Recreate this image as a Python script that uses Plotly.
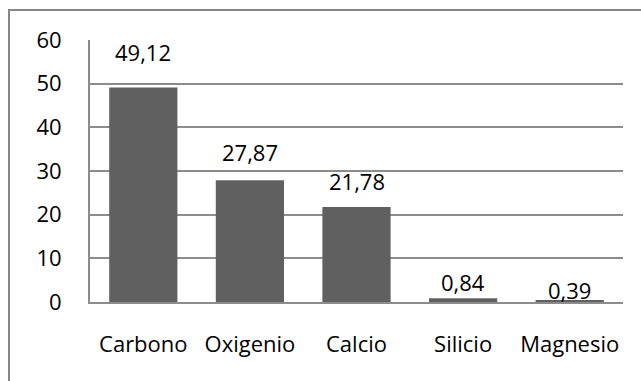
import plotly.graph_objects as go

# Element composition (%)
elementos = ["Carbono", "Oxigenio", "Calcio", "Silicio", "Magnesio"]
porcentajes = [49.12, 27.87, 21.78, 0.84, 0.39]
y_ticks = [0, 10, 20, 30, 40, 50, 60]

# vertical offset (px) of each value label above its bar
label_offsets = [36, 28, 26, 16, 10]

FONT = "Open Sans"
FSIZE = 22
GRID = "#8c8c8c"

fig = go.Figure(
    go.Bar(
        x=elementos,
        y=porcentajes,
        marker=dict(color="#606060", line=dict(width=0)),
        width=0.64,
        hoverinfo="skip",
    )
)

for cat, val, off in zip(elementos, porcentajes, label_offsets):
    fig.add_annotation(
        x=cat, y=val, xref="x", yref="y",
        text=f"{val:.2f}".replace(".", ","),
        showarrow=False, yanchor="middle", yshift=off,
        font=dict(family=FONT, size=FSIZE, color="#000000"),
    )

# outer chart frame (runs off the right/bottom edge)
fig.add_shape(
    type="rect", xref="paper", yref="paper",
    x0=-0.152, x1=1.2, y0=-0.5, y1=1.1145,
    line=dict(color="#868686", width=2), fillcolor="rgba(0,0,0,0)",
)

fig.update_layout(
    width=641, height=381,
    margin=dict(l=90, r=18, t=40, b=79),
    paper_bgcolor="white", plot_bgcolor="white",
    showlegend=False,
    font=dict(family=FONT, size=FSIZE, color="#000000"),
    xaxis=dict(
        showgrid=False, showline=True, linecolor=GRID, linewidth=2,
        ticks="", ticklabelstandoff=22,
        tickfont=dict(family=FONT, size=FSIZE, color="#000000"),
    ),
    yaxis=dict(
        range=[0, 60], tickvals=y_ticks,
        showgrid=True, gridcolor=GRID, gridwidth=2,
        zeroline=False,
        showline=True, linecolor=GRID, linewidth=2,
        ticks="", ticklabelstandoff=22,
        tickfont=dict(family=FONT, size=FSIZE, color="#000000"),
    ),
)

fig.write_html("out.html")
